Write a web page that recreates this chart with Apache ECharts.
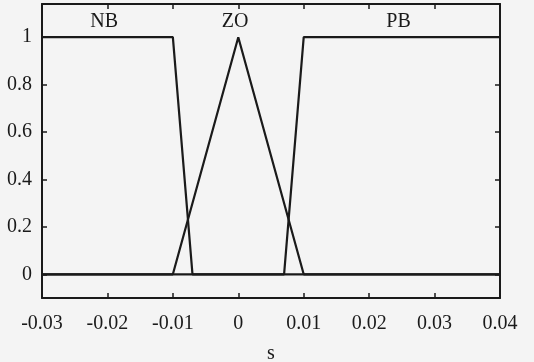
<!DOCTYPE html>
<html><head><meta charset="utf-8">
<script src="https://cdn.jsdelivr.net/npm/echarts@6/dist/echarts.min.js"></script>
<style>html,body{margin:0;padding:0;background:#f4f4f4}#c{width:534px;height:362px}</style>
</head><body><div id="c"></div>
<script>
// Membership functions: x breakpoints and membership values
const nbX = [-0.03, -0.01, -0.007, 0.04];
const nbY = [1, 1, 0, 0];
const zoX = [-0.03, -0.01, 0, 0.01, 0.04];
const zoY = [0, 0, 1, 0, 0];
const pbX = [-0.03, 0.007, 0.01, 0.04];
const pbY = [0, 0, 1, 1];
const setNames = ['NB', 'ZO', 'PB'];
const setLabelX = [-0.0205, -0.0005, 0.0245];
const setLabelY = [1.065, 1.065, 1.065];
const xTicks = [-0.03, -0.02, -0.01, 0, 0.01, 0.02, 0.03, 0.04];
const yTicks = [0, 0.2, 0.4, 0.6, 0.8, 1];

const pair = (xs, ys) => xs.map((x, i) => [x, ys[i]]);
const font = 'Liberation Serif';
const ink = '#1a1a1a';
const chart = echarts.init(document.getElementById('c'));
const lineStyle = {color: ink, width: 2.2};
const baseX = {
  type: 'value', min: -0.03, max: 0.04, interval: 0.01,
  splitLine: {show: false},
  axisLine: {show: true, onZero: false, lineStyle: {color: ink, width: 2}},
  axisTick: {show: true, inside: true, length: 5, lineStyle: {color: ink, width: 1.5}}
};
const baseY = {
  type: 'value', min: -0.1, max: 1.14,
  splitLine: {show: false},
  axisLine: {show: true, onZero: false, lineStyle: {color: ink, width: 2}},
  axisTick: {show: true, inside: true, length: 5, customValues: yTicks, lineStyle: {color: ink, width: 1.5}}
};
chart.setOption({
  backgroundColor: '#f4f4f4',
  animation: false,
  grid: {left: 42, right: 34, top: 4, bottom: 64, containLabel: false, outerBoundsMode: 'none'},
  xAxis: [
    Object.assign({}, baseX, {
      position: 'bottom', name: 's', nameLocation: 'middle', nameGap: 46,
      nameTextStyle: {fontFamily: font, fontSize: 20, color: ink},
      axisLabel: {customValues: xTicks, formatter: v => String(+v.toFixed(2)), fontFamily: font, fontSize: 20, color: ink, margin: 16}
    }),
    Object.assign({}, baseX, {position: 'top', axisLabel: {show: false}})
  ],
  yAxis: [
    Object.assign({}, baseY, {
      position: 'left',
      axisLabel: {customValues: yTicks, formatter: v => String(+v.toFixed(1)), fontFamily: font, fontSize: 20, color: ink, margin: 10}
    }),
    Object.assign({}, baseY, {position: 'right', axisLabel: {show: false}})
  ],
  series: [
    {type: 'line', name: 'NB', data: pair(nbX, nbY), showSymbol: false, lineStyle},
    {type: 'line', name: 'ZO', data: pair(zoX, zoY), showSymbol: false, lineStyle},
    {type: 'line', name: 'PB', data: pair(pbX, pbY), showSymbol: false, lineStyle},
    {type: 'scatter', symbolSize: 0, silent: true, itemStyle: {opacity: 1},
     data: setNames.map((n, i) => ({value: [setLabelX[i], setLabelY[i]], name: n})),
     label: {show: true, position: 'inside', formatter: p => p.name, fontFamily: font, fontSize: 20, color: ink}}
  ]
});
</script></body></html>
